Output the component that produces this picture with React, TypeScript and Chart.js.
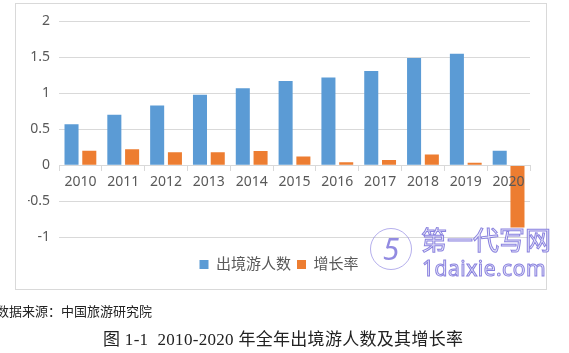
import React, { useEffect, useRef } from 'react';
import { Chart, registerables } from 'chart.js';

Chart.register(...registerables);

const categories = ['2010', '2011', '2012', '2013', '2014', '2015', '2016', '2017', '2018', '2019', '2020'];
const travelers = [0.57, 0.70, 0.83, 0.98, 1.07, 1.17, 1.22, 1.31, 1.49, 1.55, 0.20];
const growth = [0.20, 0.22, 0.18, 0.18, 0.195, 0.12, 0.04, 0.07, 0.147, 0.033, -0.869];
const seriesNames = ['出境游人数', '增长率'];
const seriesColors = ['#5B9BD5', '#ED7D31'];
const yMin = -1;
const yMax = 2;
const yStep = 0.5;

const sourceText = '数据来源：中国旅游研究院';
const captionText = '图 1-1  2010-2020 年全年出境游人数及其增长率';

const FONT = "'Noto Sans', 'Noto Sans CJK SC', sans-serif";

export default function App() {
  const ref = useRef<HTMLCanvasElement | null>(null);

  useEffect(() => {
    if (!ref.current) return;
    const chart = new Chart(ref.current, {
      type: 'bar',
      data: {
        labels: categories,
        datasets: [
          {
            label: seriesNames[0],
            data: travelers,
            backgroundColor: seriesColors[0],
            categoryPercentage: 0.83,
            barPercentage: 0.79,
          },
          {
            label: seriesNames[1],
            data: growth,
            backgroundColor: seriesColors[1],
            categoryPercentage: 0.83,
            barPercentage: 0.79,
          },
        ],
      },
      options: {
        responsive: false,
        animation: false,
        layout: { padding: { left: 12, right: 16, top: 15, bottom: 7 } },
        plugins: {
          legend: {
            position: 'bottom',
            labels: {
              boxWidth: 9,
              boxHeight: 9,
              padding: 6,
              color: '#595959',
              font: { size: 15, family: FONT },
            },
            title: { display: true, text: '', padding: 0, font: { size: 14, lineHeight: 1 } },
          },
          tooltip: { enabled: false },
        },
        scales: {
          x: {
            position: { y: 0 } as any,
            offset: true,
            grid: {
              offset: true,
              drawOnChartArea: false,
              drawTicks: true,
              tickLength: 5,
              color: '#D9D9D9',
              z: 1,
            },
            border: { color: '#D9D9D9', z: 1 },
            ticks: {
              color: '#595959',
              font: { size: 14, family: FONT },
              padding: 3,
              maxRotation: 0,
              autoSkip: false,
              z: 1,
            },
          },
          y: {
            min: yMin,
            max: yMax,
            ticks: {
              stepSize: yStep,
              color: '#595959',
              font: { size: 14, family: FONT },
              padding: 9,
              callback: (v: any) => String(Number(v)),
            },
            grid: { color: '#D9D9D9', drawTicks: false },
            border: { display: false },
            afterFit: (s: any) => {
              s.width = 31;
            },
          },
        },
      },
    });
    return () => chart.destroy();
  }, []);

  return (
    <div style={{ position: 'relative', width: 569, height: 353, background: '#fff' }}>
      <div
        style={{
          position: 'fixed',
          left: 15,
          top: 3,
          width: 532,
          height: 287,
          border: '1px solid #D9D9D9',
          boxSizing: 'border-box',
          background: '#fff',
        }}
      >
        <canvas ref={ref} width={530} height={285} style={{ display: 'block', width: 530, height: 285 }} />
      </div>
      <div
        style={{
          position: 'fixed',
          left: 370,
          top: 228,
          width: 40,
          height: 40,
          borderRadius: '50%',
          border: '1px solid rgba(120,110,220,0.55)',
          color: 'rgba(110,100,215,0.75)',
          fontFamily: FONT,
          fontSize: 30,
          lineHeight: '40px',
          textAlign: 'center',
          fontStyle: 'italic',
        }}
      >
        5
      </div>
      <div
        style={{
          position: 'fixed',
          left: 421,
          top: 225,
          fontFamily: "'Noto Sans CJK SC', sans-serif",
          fontSize: 26,
          lineHeight: '28px',
          color: 'rgba(235,235,250,0.9)',
          WebkitTextStroke: '1px rgba(110,100,215,0.8)',
          whiteSpace: 'nowrap',
        }}
      >
        第一代写网
      </div>
      <div
        style={{
          position: 'fixed',
          left: 422,
          top: 256,
          fontFamily: FONT,
          fontSize: 21,
          lineHeight: '24px',
          letterSpacing: 0.5,
          color: 'rgba(235,235,250,0.9)',
          WebkitTextStroke: '1px rgba(110,100,215,0.8)',
          whiteSpace: 'nowrap',
        }}
      >
        1daixie.com
      </div>
      <div
        style={{
          position: 'fixed',
          left: -4,
          top: 304,
          fontFamily: "'Noto Sans CJK SC', serif",
          fontSize: 13,
          lineHeight: '14px',
          color: '#222',
          whiteSpace: 'nowrap',
        }}
      >
        {sourceText}
      </div>
      <div
        style={{
          position: 'fixed',
          left: 103,
          top: 331,
          fontFamily: "'Liberation Serif', 'Noto Sans CJK SC', serif",
          fontSize: 17,
          lineHeight: '18px',
          letterSpacing: 0.3,
          color: '#222',
          whiteSpace: 'pre',
        }}
      >
        {captionText}
      </div>
    </div>
  );
}
